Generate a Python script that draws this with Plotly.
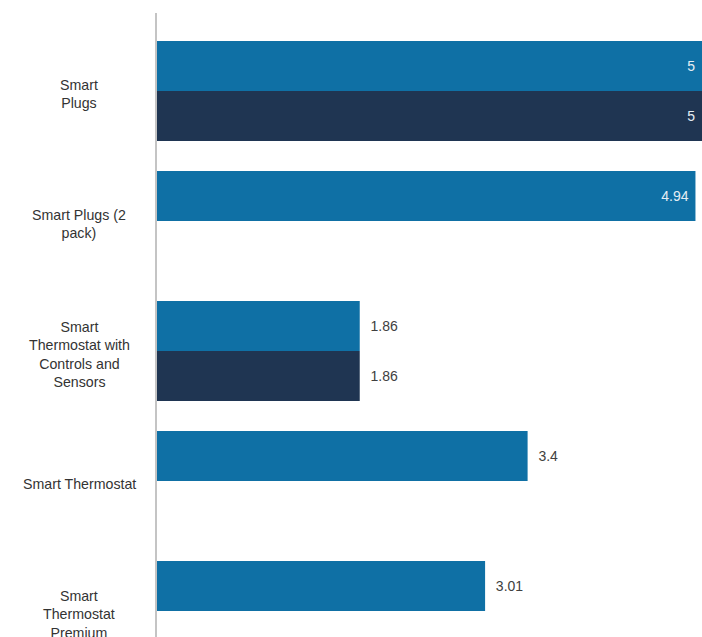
import plotly.graph_objects as go

categories = [
    "Smart Plugs",
    "Smart Plugs (2 pack)",
    "Smart Thermostat with Controls and Sensors",
    "Smart Thermostat",
    "Smart Thermostat Premium",
]
category_labels = [
    "Smart<br>Plugs",
    "Smart Plugs (2<br>pack)",
    "Smart<br>Thermostat with<br>Controls and<br>Sensors",
    "Smart Thermostat",
    "Smart<br>Thermostat<br>Premium",
]
series1_name = "Series 1"
series2_name = "Series 2"
series1_values = [5, 4.94, 1.86, 3.4, 3.01]
series2_values = [5, None, 1.86, None, None]

NB = "\u00a0"
FONT = "Liberation Sans, Arial, sans-serif"


def labels_for(values):
    texts, positions = [], []
    for v in values:
        if v is None:
            texts.append("")
            positions.append("none")
        elif v >= 4.5:
            texts.append(f"{v:g}" + NB)
            positions.append("inside")
        else:
            texts.append(NB * 2 + f"{v:g}")
            positions.append("outside")
    return texts, positions


fig = go.Figure()
for name, vals, color in [
    (series1_name, series1_values, "#0f70a5"),
    (series2_name, series2_values, "#1f3552"),
]:
    t, p = labels_for(vals)
    fig.add_trace(go.Bar(
        y=categories, x=vals, orientation="h", name=name,
        marker=dict(color=color, line=dict(width=0)),
        text=t, textposition=p, texttemplate="%{text}",
        insidetextanchor="end",
        insidetextfont=dict(color="#e6eef4", size=14, family=FONT),
        outsidetextfont=dict(color="#404040", size=14, family=FONT),
        cliponaxis=False,
        hoverinfo="skip",
    ))

for cat, lab in zip(categories, category_labels):
    fig.add_annotation(
        x=-0.143, xref="paper", y=cat, yref="y", text=lab,
        showarrow=False, xanchor="center", yanchor="middle", align="center",
        yshift=-3,
        font=dict(size=14.2, color="#333333", family=FONT),
    )

fig.update_layout(
    width=702, height=637,
    margin=dict(l=157, r=0, t=13, b=0),
    paper_bgcolor="white", plot_bgcolor="white",
    barmode="group", bargap=0.23, bargroupgap=0,
    showlegend=False,
)
fig.update_xaxes(range=[0, 5], showgrid=False, zeroline=False, showticklabels=False,
                 showline=False, fixedrange=True)
fig.update_yaxes(categoryorder="array", categoryarray=categories,
                 range=[4.2, -0.6], showgrid=False, zeroline=False,
                 showticklabels=False, ticks="",
                 showline=True, linecolor="#c4c4c4", linewidth=2)

fig.write_html(
    "out.html",
    config={"displayModeBar": False},
    post_script="document.body.style.margin='0';document.body.style.overflow='hidden';",
)
